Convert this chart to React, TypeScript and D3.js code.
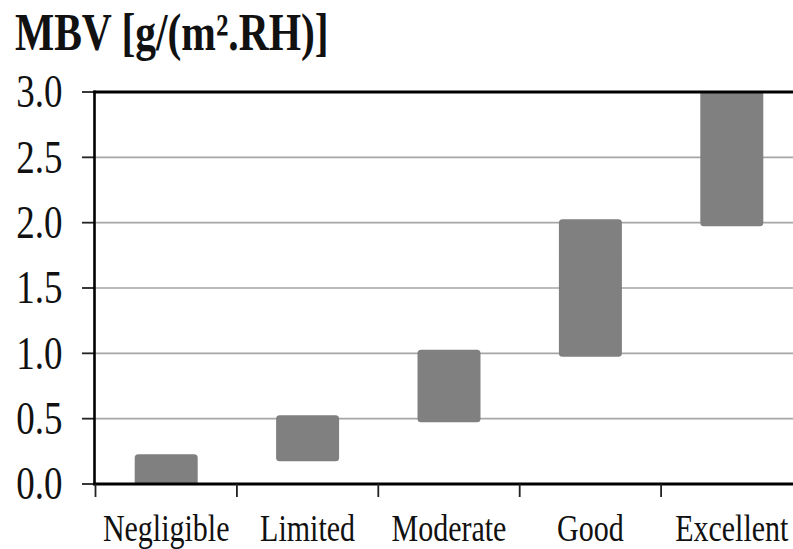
import React from "react";
import * as d3 from "d3";

const categories = ["Negligible", "Limited", "Moderate", "Good", "Excellent"];
const lowValues = [0, 0.2, 0.5, 1.0, 2.0];
const highValues = [0.2, 0.5, 1.0, 2.0, 3.0];
const yTicks = [0, 0.5, 1.0, 1.5, 2.0, 2.5, 3.0];
const title = "MBV [g/(m².RH)]";

const W = 793;
const H = 549;
const left = 94.5;
const top = 92;
const bottom = 484;
const right = 802.5;
const SY = 1.25;

export default function App() {
  const y = d3.scaleLinear().domain([0, 3]).range([bottom, top]);
  const x = d3.scaleBand<string>().domain(categories).range([left + 1, right]).paddingInner(0).paddingOuter(0);
  const bw = x.bandwidth();
  const barW = 56;
  const stroke = 7;
  const font = "'Liberation Serif', 'Times New Roman', serif";
  return (
    <svg width={W} height={H} style={{ position: "fixed", left: 0, top: 0, background: "#fff" }}>
      <defs>
        <clipPath id="plot">
          <rect x={left} y={top} width={W - left} height={bottom - top} />
        </clipPath>
      </defs>
      <rect x={0} y={0} width={W} height={H} fill="#fff" />
      <text x={15} y={50} transform={`translate(0, ${50 - 50 * SY}) scale(1, ${SY})`} fontFamily={font} fontWeight="bold" fontSize={41.5} fill="#111">
        {title}
      </text>
      {yTicks.filter((t) => t > 0 && t < 3).map((t) => (
        <line key={"g" + t} x1={left} x2={W} y1={y(t)} y2={y(t)} stroke="#a6a6a6" strokeWidth={1.6} />
      ))}
      <g clipPath="url(#plot)">
        {categories.map((c, i) => {
          const cx = (x(c) as number) + bw / 2;
          const y0 = y(lowValues[i]);
          const y1 = y(highValues[i]);
          return (
            <rect key={c} x={cx - barW / 2} y={y1} width={barW} height={y0 - y1} fill="#808080" stroke="#808080" strokeWidth={stroke} strokeLinejoin="round" />
          );
        })}
      </g>
      {yTicks.map((t) => (
        <g key={"t" + t}>
          <line x1={82} x2={left} y1={y(t)} y2={y(t)} stroke="#222" strokeWidth={1.8} />
          <text x={62.5} y={y(t)} transform={`translate(0, ${y(t) - y(t) * SY}) scale(1, ${SY})`} textAnchor="end" dominantBaseline="central" fontFamily={font} fontSize={37} fill="#111">
            {t.toFixed(1)}
          </text>
        </g>
      ))}
      <line x1={left} x2={left} y1={top - 1.5} y2={bottom + 1.5} stroke="#000" strokeWidth={2.6} />
      <line x1={left - 1} x2={W} y1={top} y2={top} stroke="#000" strokeWidth={3} />
      <line x1={left - 1} x2={W} y1={bottom} y2={bottom} stroke="#000" strokeWidth={3} />
      {categories.map((c) => (
        <line key={"xt" + c} x1={x(c) as number} x2={x(c) as number} y1={bottom} y2={bottom + 13} stroke="#222" strokeWidth={1.8} />
      ))}
      {categories.map((c) => {
        const cx = (x(c) as number) + bw / 2;
        const by = 541;
        return (
          <text key={"xl" + c} x={cx} y={by} transform={`translate(0, ${by - by * SY}) scale(1, ${SY})`} textAnchor="middle" fontFamily={font} fontSize={30} fill="#111">
            {c}
          </text>
        );
      })}
    </svg>
  );
}
